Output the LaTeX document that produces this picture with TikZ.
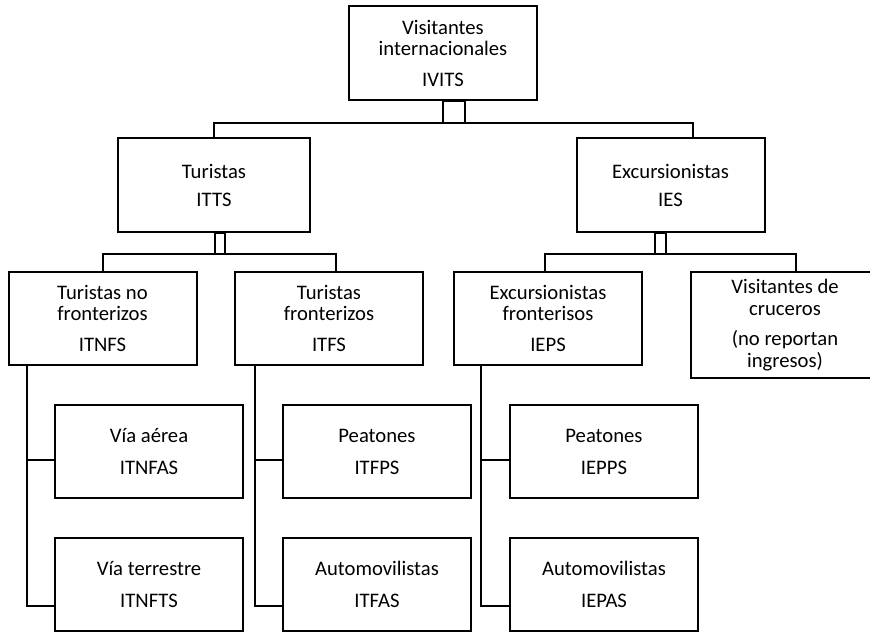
\documentclass[tikz,border=0pt]{standalone}
\usepackage{fontspec}
\setmainfont{Carlito}
\usetikzlibrary{calc}
\begin{document}
\begin{tikzpicture}[x=0.75pt,y=-0.75pt,line width=1.5pt,
    box/.style={draw,align=center,inner sep=2pt,minimum width=141pt,minimum height=70pt,
      font=\fontsize{15.5}{16}\selectfont}]
  \useasboundingbox (0,0) rectangle (870,632);
  \clip (0,0) rectangle (870,632);
  \node[box] (ivits) at (443,53) {Visitantes\\internacionales\\[7pt]IVITS};
  \node[box,minimum width=144pt] (itts) at (214,185) {Turistas\\[5pt]ITTS};
  \node[box] (ies) at (670.5,185) {Excursionistas\\[5pt]IES};
  \node[box] (itnfs) at (102.5,318.5) {Turistas no\\fronterizos\\[7pt]ITNFS};
  \node[box] (itfs) at (329,318.5) {Turistas\\fronterizos\\[7pt]ITFS};
  \node[box] (ieps) at (548,318.5) {Excursionistas\\fronterisos\\[7pt]IEPS};
  \node[box,minimum height=79.5pt] (cruc) at (785,325) {Visitantes de\\cruceros\\[7pt](no reportan\\ingresos)};
  \node[box] (itnfas) at (149,451.5) {V\'ia a\'erea\\[8pt]ITNFAS};
  \node[box] (itnfts) at (149,584.5) {V\'ia terrestre\\[8pt]ITNFTS};
  \node[box] (itfps) at (377,451.5) {Peatones\\[8pt]ITFPS};
  \node[box] (itfas) at (377,584.5) {Automovilistas\\[8pt]ITFAS};
  \node[box] (iepps) at (604,451.5) {Peatones\\[8pt]IEPPS};
  \node[box] (iepas) at (604,584.5) {Automovilistas\\[8pt]IEPAS};
  \draw ($(ivits.south)+(0,0)$) rectangle ++(22,22) coordinate (sq1);
  \draw (itts.north) |- (sq1) -| ($(ies.north)+(22,0)$);
  \draw ($(itts.south)+(1,0)$) rectangle ++(10,21) coordinate (sq2);
  \draw (itnfs.north) |- (sq2) -| ($(itfs.north)+(7,0)$);
  \draw ($(ies.south)+(-15.5,0)$) rectangle ++(11,21) coordinate (sq3);
  \draw ($(ieps.north)+(-3,0)$) |- (sq3) -| ($(cruc.north)+(11,0)$);
  \foreach \up/\dx/\upper/\lower in {itnfs/19/itnfas/itnfts,itfs/21/itfps/itfas,ieps/28/iepps/iepas}{
    \draw ($(\up.south west)+(\dx,0)$) |- ($(\upper.west)+(0,8.5)$);
    \draw ($(\up.south west)+(\dx,0)$) |- ($(\lower.west)+(0,21.5)$);
  }
\end{tikzpicture}
\end{document}
